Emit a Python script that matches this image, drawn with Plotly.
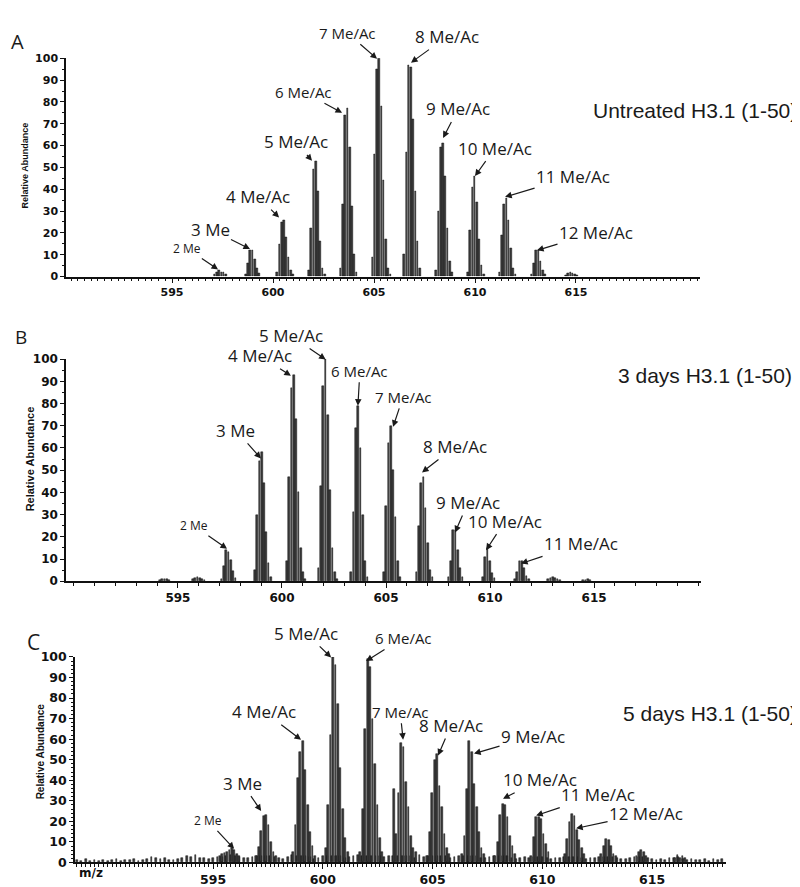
import plotly.graph_objects as go

# ---------------- data ----------------
ISO_STEP = 0.1115  # spacing between isotope peaks inside one cluster (z = 9)

# Panel A : Untreated H3.1 (1-50)
a_cluster_start = [597.11, 598.65, 600.21, 601.78, 603.35, 604.92, 606.49,
                   608.08, 609.65, 611.22, 612.80, 614.50]
a_cluster_int = [
    [1, 2, 3, 2, 2, 1],
    [1, 6, 12, 12, 8, 4, 1.5],
    [2, 15, 25, 26, 18, 9, 3, 1],
    [3, 22, 49, 53, 39, 16, 4, 1],
    [4, 33, 74, 77, 59, 32, 10, 2],
    [9, 56, 95, 100, 78, 44, 17, 4, 1],
    [10, 57, 97, 96, 72, 39, 16, 4],
    [3, 30, 59, 61, 46, 22, 7, 2],
    [2, 21, 41, 46, 34, 17, 5, 1],
    [2, 19, 33, 36, 26, 13, 4, 1],
    [1, 6, 12, 12, 7, 3, 1],
    [0.8, 1.5, 2, 1.5, 1, 0.7],
]
a_labels = ["2 Me", "3 Me", "4 Me/Ac", "5 Me/Ac", "6 Me/Ac", "7 Me/Ac",
            "8 Me/Ac", "9 Me/Ac", "10 Me/Ac", "11 Me/Ac", "12 Me/Ac"]
a_label_mz = [597.28, 598.86, 600.30, 601.93, 603.42, 605.15, 606.83,
              608.42, 610.00, 611.49, 613.07]
a_label_int = [3.2, 12.6, 27, 53, 75, 99.8, 98, 63.5, 46, 36.5, 12]

# Panel B : 3 days H3.1 (1-50)
b_cluster_start = [594.13, 595.72, 597.10, 598.69, 600.23, 601.76, 603.33,
                   604.90, 606.46, 608.01, 609.66, 611.20, 612.79, 614.47]
b_cluster_int = [
    [0.6, 1, 1.2, 1, 0.6],
    [0.8, 1.5, 1.8, 1.5, 1, 0.6],
    [1, 7, 14, 13, 9.5, 4.5, 1.5],
    [5, 30, 54, 58, 44, 22, 8, 2],
    [9, 47, 87, 93, 73, 40, 15, 4, 1],
    [6, 43, 88, 100, 75, 41, 15, 4, 1],
    [4, 31, 69, 79, 60, 30, 9, 2],
    [4, 34, 62, 70, 50, 29, 9, 2],
    [4, 25, 44, 47, 33, 17, 5, 2],
    [2, 9, 23, 23, 14, 6, 2],
    [2, 11, 15, 9, 3.5, 1.5],
    [1, 4, 9, 9, 6, 2.5, 1],
    [0.8, 1.5, 1.8, 1.5, 1, 0.5],
    [0.4, 0.7, 0.8, 0.5],
]
b_labels = ["2 Me", "3 Me", "4 Me/Ac", "5 Me/Ac", "6 Me/Ac", "7 Me/Ac",
            "8 Me/Ac", "9 Me/Ac", "10 Me/Ac", "11 Me/Ac"]
b_label_mz = [597.36, 598.99, 600.43, 602.10, 603.65, 605.34, 606.73,
              608.32, 609.81, 611.49]
b_label_int = [14.6, 55.3, 92.5, 99.8, 79, 69.5, 49, 22, 14, 8]

# Panel C : 5 days H3.1 (1-50)
c_cluster_start = [595.30, 596.97, 598.64, 600.13, 601.71, 603.23, 604.76,
                   606.34, 607.86, 609.50, 611.02, 612.69, 614.29, 616.05]
c_cluster_int = [
    [3, 4, 4.5, 5, 6, 7, 6, 4, 3],
    [3, 7.5, 15.5, 22.6, 23, 18.3, 9.9, 5, 3],
    [5, 18, 41, 54, 59, 45, 28, 15, 8, 3],
    [7, 28, 62, 100, 96, 77, 46, 26, 12, 5],
    [5, 26, 65, 99, 95, 70, 48, 28, 12, 5],
    [36, 14, 34, 58, 56, 39, 27, 13, 7, 5],
    [3, 15, 34, 50, 53, 37, 27, 14, 7, 4],
    [4, 13, 36, 59, 54, 38, 27, 15, 7, 4],
    [3, 10, 23, 28.5, 28, 22, 13, 8, 4],
    [3, 12.6, 22, 22, 21, 14, 9, 5],
    [4, 11.5, 19.5, 23.5, 22.6, 16, 11, 7, 4],
    [4, 8, 11.5, 11, 8, 4, 3],
    [3, 5, 6, 5, 3],
    [2, 3.5, 2, 3, 2],
]
# baseline noise of panel C, read every 0.2 m/z from 588.8
c_noise_start = 588.8
c_noise_step = 0.2
c_noise = [1.2, 0.6, 1.5, 0.8, 1.0, 0.5, 1.4, 0.9, 1.1, 1.6, 0.7, 1.3, 1.0, 1.5, 0.8, 1.2, 1.7,
           2.5, 2.2, 1.6, 2.0, 1.2,
           1.0, 1.6, 2.2,
           3.2, 2.6, 3.8, 2.4, 2.0,
           1.6, 2.2, 2.6,
           2.8, 3.0, 3.5, 3.2,
           2.6, 2.0, 2.4, 2.8,
           3, 3, 3, 3, 2.5, 2.0,
           1.8, 2.5, 3.5,
           3, 3, 3, 2.5, 1.5, 2.2,
           3, 3, 3, 3, 3, 2, 2.5, 3, 3.5,
           3, 3, 3, 3, 3, 2.5, 3,
           3, 3, 3, 3, 3, 2, 3.5, 2.5,
           3, 3, 3, 3, 3, 2.2, 2.8, 3.0,
           3, 3, 3, 3, 2.4, 2.0, 2.6, 3.0,
           3, 3, 3, 2.2, 1.8, 2.2, 2.6, 2.0,
           2.5, 2.5, 2.5, 2.0, 1.6, 2.4, 2.0, 2.6,
           2.5, 2.5, 2.5, 2.2, 1.8, 2.0, 2.4, 2.8,
           2.5, 2.5, 2.5, 2.0, 1.5, 1.8, 2.2, 2.6,
           2.5, 2.5, 2.0, 1.6, 1.2, 1.8, 1.4, 2.0,
           2.2, 2.5, 1.8, 1.2, 1.6, 1.0, 1.4, 1.8, 0.8, 1.5, 1.2, 1.6]
c_labels = ["2 Me", "3 Me", "4 Me/Ac", "5 Me/Ac", "6 Me/Ac", "7 Me/Ac",
            "8 Me/Ac", "9 Me/Ac", "10 Me/Ac", "11 Me/Ac", "12 Me/Ac"]
c_label_mz = [595.96, 597.19, 599.01, 600.38, 601.97, 603.66, 605.25,
              606.89, 608.21, 609.72, 611.54]
c_label_int = [6.6, 25, 59.7, 99.8, 98, 59.7, 52, 53, 31, 22.8, 16.6]

titles = ["Untreated H3.1 (1-50)", "3 days H3.1 (1-50)", "5 days H3.1 (1-50)"]
panel_letters = ["A", "B", "C"]
x_tick_vals = [595, 600, 605, 610, 615]
y_tick_vals = [0, 10, 20, 30, 40, 50, 60, 70, 80, 90, 100]

# ---------------- layout constants (pixels of the 800x887 page) ----------------
W, H = 800, 887
panels = [
    dict(x0=58, x1=692, ytop=43, ybot=265, xr=[589.75, 621.14], xminor=1 / 3, yminor=5,
         tfs=11, title_xy=(791, 96), letter_xy=(9, 26), letter_fs=20,
         ylab_xy=(17, 152), ylab_fs=9,
         offs=[(-31, -21), (-40, -20), (-21, -21), (-16, -19), (-39, -21), (-30, -26),
               (36, -26), (15, -29), (20, -28), (68, -20), (59, -18)]),
    dict(x0=58, x1=693, ytop=349, ybot=575, xr=[589.62, 620.14], xminor=1.0, yminor=5,
         tfs=12, title_xy=(786, 366), letter_xy=(13, 327), letter_fs=19,
         ylab_xy=(22, 451), ylab_fs=11,
         offs=[(-33, -23), (-25, -28), (-31, -20), (-35, -24), (2, -35), (10, -30),
               (33, -26), (13, -30), (19, -29), (60, -20)]),
    dict(x0=67, x1=718, ytop=652, ybot=861, xr=[588.71, 618.37], xminor=0.2, yminor=2,
         tfs=12.5, title_xy=(791, 709), letter_xy=(25, 637), letter_fs=21,
         ylab_xy=(32, 748), ylab_fs=10,
         offs=[(-26, -28), (-19, -28), (-37, -28), (-25, -24), (37, -23), (-3, -28),
               (13, -30), (59, -17), (37, -19), (62, -21), (70, -15)]),
]

def label_size(txt):
    if txt == "2 Me":
        return 12
    if txt in ("6 Me/Ac", "7 Me/Ac"):
        return 15
    return 17

def sticks(starts, ints):
    xs, ys = [], []
    for s, row in zip(starts, ints):
        for i, v in enumerate(row):
            xs.append(s + i * ISO_STEP)
            ys.append(v)
    return xs, ys

fig = go.Figure()
STICK = "#3a3a3a"

data_sets = [
    (a_cluster_start, a_cluster_int, a_labels, a_label_mz, a_label_int),
    (b_cluster_start, b_cluster_int, b_labels, b_label_mz, b_label_int),
    (c_cluster_start, c_cluster_int, c_labels, c_label_mz, c_label_int),
]

TXT = "#1a1a1a"
annotations = []
for k, (starts, ints, labs, lmz, lint) in enumerate(data_sets):
    p = panels[k]
    xa = "x" if k == 0 else f"x{k+1}"
    ya = "y" if k == 0 else f"y{k+1}"
    xs, ys = sticks(starts, ints)
    if k == 2:
        nx = [c_noise_start + i * c_noise_step for i in range(len(c_noise))]
        xs = nx + xs
        ys = list(c_noise) + ys
    fig.add_trace(go.Bar(x=xs, y=ys, width=0.08, xaxis=xa, yaxis=ya,
                         marker=dict(color=STICK, line=dict(color="#111", width=0.5)),
                         hoverinfo="skip"))
    for t, (m, v) in enumerate(zip(lmz, lint)):
        ax, ay = p["offs"][t]
        annotations.append(dict(
            x=m, y=v, xref=xa, yref=ya, text=labs[t], showarrow=True,
            ax=ax, ay=ay, arrowhead=2, arrowsize=1.1, arrowwidth=1.2,
            arrowcolor=TXT, standoff=0,
            font=dict(family="Open Sans, Liberation Sans, sans-serif",
                      size=label_size(labs[t]), color=TXT)))
    # panel title (right-aligned at the right edge, as in the reference)
    annotations.append(dict(
        x=p["title_xy"][0] / W, y=1 - p["title_xy"][1] / H, xref="paper", yref="paper",
        text=titles[k], showarrow=False, xanchor="right", yanchor="middle",
        font=dict(family="Liberation Sans, sans-serif", size=21, color=TXT)))
    # panel letter
    annotations.append(dict(
        x=p["letter_xy"][0] / W, y=1 - p["letter_xy"][1] / H, xref="paper", yref="paper",
        text=panel_letters[k], showarrow=False, xanchor="center", yanchor="middle",
        font=dict(family="Open Sans, Liberation Sans, sans-serif",
                  size=p["letter_fs"], color=TXT)))
    # y axis title
    annotations.append(dict(
        x=p["ylab_xy"][0] / W, y=1 - p["ylab_xy"][1] / H, xref="paper", yref="paper",
        text="Relative Abundance", showarrow=False, textangle=-90,
        xanchor="center", yanchor="middle",
        font=dict(family="Liberation Sans, sans-serif",
                  size=p["ylab_fs"], color="#111", weight="bold")))

    tick_font = dict(family="DejaVu Sans, sans-serif", size=p["tfs"], color="#111", weight="bold")
    xaxis = dict(domain=[p["x0"] / W, p["x1"] / W], range=p["xr"], anchor=ya,
                 tickmode="array", tickvals=x_tick_vals, ticks="outside", ticklen=5,
                 tickwidth=1, tickcolor="#111", showline=True, linecolor="#111",
                 linewidth=1.5, showgrid=False, zeroline=False, tickfont=tick_font,
                 minor=dict(tickmode="linear", tick0=595, dtick=p["xminor"],
                            ticks="outside", ticklen=3, tickwidth=1, tickcolor="#111",
                            showgrid=False))
    yaxis = dict(domain=[1 - p["ybot"] / H, 1 - p["ytop"] / H], range=[0, 100], anchor=xa,
                 tickmode="array", tickvals=y_tick_vals, ticks="outside", ticklen=4,
                 tickwidth=1, tickcolor="#111", showline=True, linecolor="#111",
                 linewidth=1.5, showgrid=False, zeroline=False, tickfont=tick_font,
                 minor=dict(tickmode="linear", tick0=0, dtick=p["yminor"],
                            ticks="outside", ticklen=2, tickwidth=1, tickcolor="#111",
                            showgrid=False))
    key = "" if k == 0 else str(k + 1)
    fig.update_layout(**{f"xaxis{key}": xaxis, f"yaxis{key}": yaxis})

# m/z label under panel C
annotations.append(dict(
    x=83 / W, y=1 - 872 / H, xref="paper", yref="paper", text="m/z", showarrow=False,
    xanchor="center", yanchor="middle",
    font=dict(family="DejaVu Sans, sans-serif", size=12, color="#111", weight="bold")))

fig.update_layout(width=W, height=H, margin=dict(l=0, r=0, t=0, b=0),
                  paper_bgcolor="white", plot_bgcolor="white", showlegend=False,
                  barmode="overlay", bargap=0, annotations=annotations)

fig.write_html("out.html")
